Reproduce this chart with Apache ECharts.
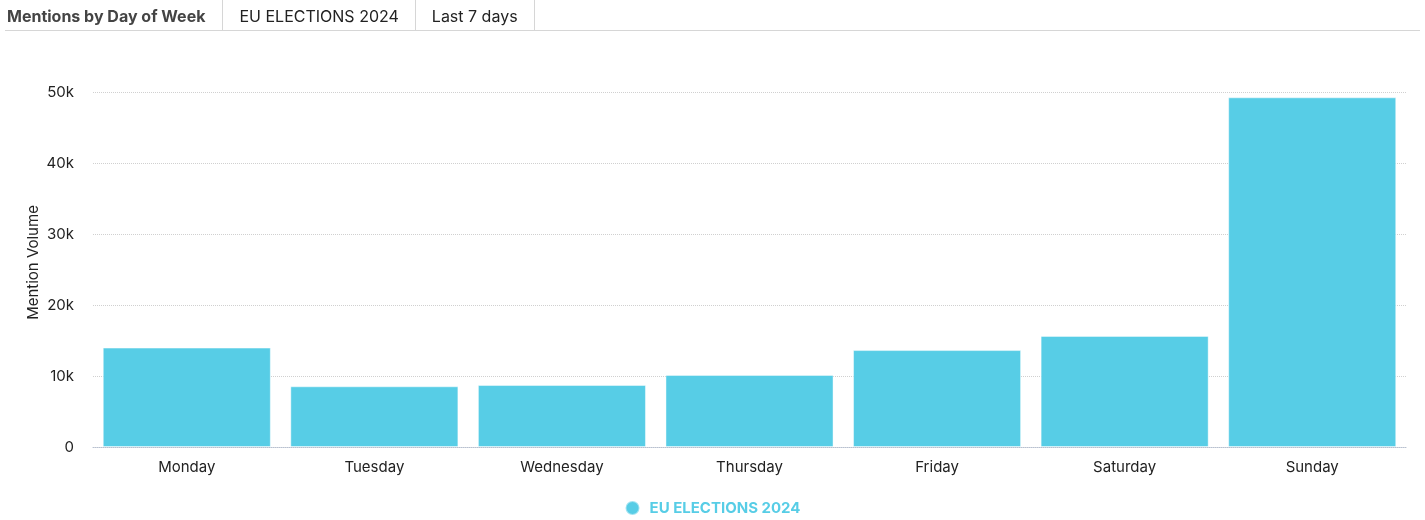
<!DOCTYPE html>
<html>
<head>
<meta charset="utf-8">
<script src="https://cdn.jsdelivr.net/npm/echarts@6/dist/echarts.min.js"></script>
<style>
  html, body { margin: 0; padding: 0; background: #fff; }
  body { width: 1425px; height: 520px; position: relative; overflow: hidden; font-family: Inter, "Noto Sans", sans-serif; }
  #header { position: absolute; left: 5px; top: 0; width: 1415px; height: 30px; border-bottom: 1px solid #d6d6d6; display: flex; align-items: center; }
  #header .cell { height: 30px; line-height: 32px; padding: 0 16px; border-right: 1px solid #d6d6d6; font-size: 16px; color: #222; white-space: nowrap; }
  #header .cell.title { font-weight: bold; color: #444; padding-left: 2px; padding-right: 17px; }
  #chart { position: absolute; left: 0; top: 0; width: 1425px; height: 520px; }
</style>
</head>
<body>
<div id="chart"></div>
<div id="header">
  <div class="cell title">Mentions by Day of Week</div>
  <div class="cell">EU ELECTIONS 2024</div>
  <div class="cell">Last 7 days</div>
</div>
<script>
const categories = ["Monday", "Tuesday", "Wednesday", "Thursday", "Friday", "Saturday", "Sunday"];
const seriesName = "EU ELECTIONS 2024";
const mentions = [14000, 8550, 8730, 10150, 13650, 15650, 49250];
const yAxisName = "Mention Volume";

const chart = echarts.init(document.getElementById('chart'));
chart.setOption({
  animation: false,
  textStyle: { fontFamily: 'Inter, "Noto Sans", sans-serif' },
  grid: { left: 93, right: 19, top: 92, bottom: 73, containLabel: false },
  legend: {
    bottom: -1,
    left: 'center',
    icon: 'circle',
    itemWidth: 14, itemHeight: 14,
    textStyle: { color: '#57CDE6', fontWeight: 'bold', fontSize: 15, padding: [0, 0, 0, 5] },
    data: [seriesName]
  },
  xAxis: {
    type: 'category',
    data: categories,
    axisTick: { show: false },
    axisLine: { show: true, lineStyle: { color: '#b8c0cf', type: 'dotted' } },
    axisLabel: { color: '#222', fontSize: 15, margin: 13 }
  },
  yAxis: {
    type: 'value',
    min: 0, max: 50000, interval: 10000,
    name: yAxisName,
    nameLocation: 'middle',
    nameGap: 52,
    nameMoveOverlap: false,
    nameTextStyle: { color: '#222', fontSize: 15, padding: [0, 0, 0, 14] },
    axisLabel: {
      color: '#222', fontSize: 15, margin: 19,
      formatter: v => v === 0 ? '0' : (v / 1000) + 'k'
    },
    splitLine: { lineStyle: { color: '#d0d0d0', type: 'dotted' } }
  },
  series: [{
    name: seriesName,
    type: 'bar',
    data: mentions,
    barCategoryGap: '10.4%',
    itemStyle: { color: '#57CDE6', borderColor: 'rgba(255,255,255,0.45)', borderWidth: 1 }
  }]
});
</script>
</body>
</html>
